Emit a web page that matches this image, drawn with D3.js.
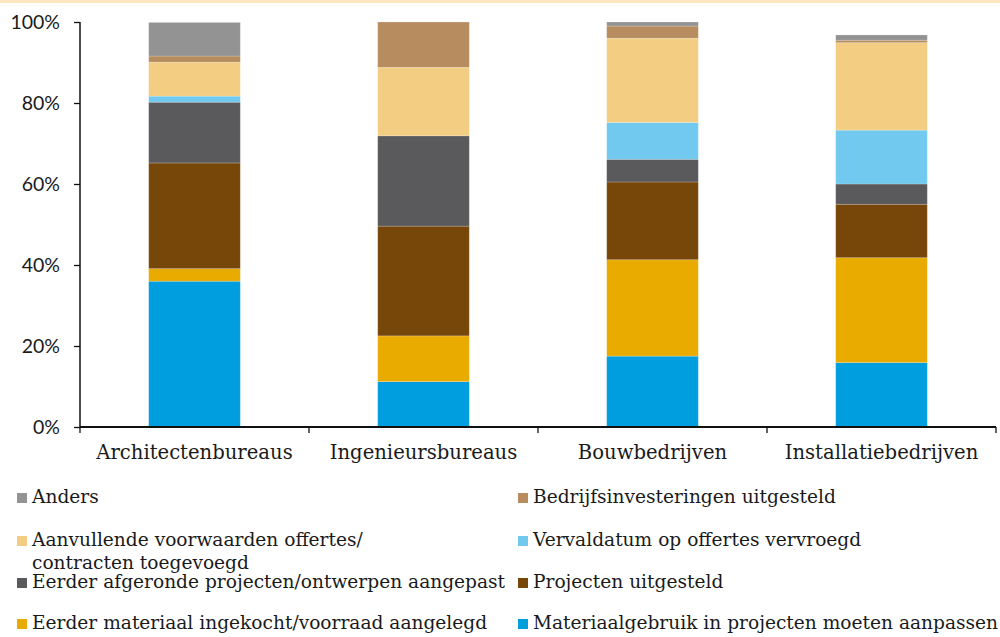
<!DOCTYPE html>
<html>
<head>
<meta charset="utf-8">
<script src="https://cdn.jsdelivr.net/npm/d3@7"></script>
<style>
  body { margin: 0; background: #fff; }
  svg { display: block; }
  .tick-label { font-family: Lato, "Open Sans", sans-serif; font-size: 19.5px; fill: #1a1a1a; }
  .cat-label { font-family: "DejaVu Serif", serif; font-size: 19.6px; fill: #1a1a1a; }
  .leg { font-family: "DejaVu Serif", serif; font-size: 18.6px; fill: #1a1a1a; }
</style>
</head>
<body>
<svg id="chart"></svg>
<script>
var width = 1000, height = 637;
var svg = d3.select("#chart").attr("width", width).attr("height", height);

// categories and series (bottom to top of the stack), values in %
var categories = ["Architectenbureaus", "Ingenieursbureaus", "Bouwbedrijven", "Installatiebedrijven"];
var seriesNames = [
  "Materiaalgebruik in projecten moeten aanpassen",
  "Eerder materiaal ingekocht/voorraad aangelegd",
  "Projecten uitgesteld",
  "Eerder afgeronde projecten/ontwerpen aangepast",
  "Vervaldatum op offertes vervroegd",
  "Aanvullende voorwaarden offertes/contracten toegevoegd",
  "Bedrijfsinvesteringen uitgesteld",
  "Anders"
];
var seriesColors = ["#009ddf", "#e9ab00", "#77470a", "#5a5a5c", "#72c9ef", "#f2cd82", "#b78d5f", "#939393"];

var materiaalgebruik = [36.0, 11.2, 17.5, 15.9];
var eerderMateriaal  = [3.1, 11.3, 23.8, 25.9];
var projectenUit     = [26.1, 27.1, 19.2, 13.2];
var eerderAfgerond   = [15.0, 22.3, 5.6, 5.0];
var vervaldatum      = [1.5, 0, 9.1, 13.3];
var aanvullende      = [8.4, 16.9, 20.8, 21.6];
var bedrijfsinv      = [1.5, 11.2, 3.0, 0.6];
var anders           = [8.3, 0, 1.0, 1.3];

var yTicks = [0, 20, 40, 60, 80, 100];

var seriesValues = [materiaalgebruik, eerderMateriaal, projectenUit, eerderAfgerond, vervaldatum, aanvullende, bedrijfsinv, anders];

// legend order, as laid out: [series index, column, row]
var legendLayout = [
  [7, 0, 0], [6, 1, 0],
  [5, 0, 1], [4, 1, 1],
  [3, 0, 2], [2, 1, 2],
  [1, 0, 3], [0, 1, 3]
];

// build table for d3.stack
var table = categories.map(function(c, i) {
  var row = { cat: c };
  seriesNames.forEach(function(s, j) { row[s] = seriesValues[j][i]; });
  return row;
});
var stacked = d3.stack().keys(seriesNames)(table);

// top strip
svg.append("rect").attr("x", 0).attr("y", 0).attr("width", width).attr("height", 3).attr("fill", "#fde7c1");

var x = d3.scaleBand().domain(categories).range([80, 996]).paddingInner(0.6).paddingOuter(0.3);
var y = d3.scaleLinear().domain([0, 100]).range([427, 22]);

// bars
var layers = svg.append("g").selectAll("g").data(stacked).enter().append("g")
  .attr("fill", function(d, i) { return seriesColors[i]; });
layers.selectAll("rect").data(function(d) { return d; }).enter().append("rect")
  .attr("x", function(d) { return x(d.data.cat); })
  .attr("width", x.bandwidth())
  .attr("y", function(d) { return y(d[1]); })
  .attr("height", function(d) { return Math.max(0, y(d[0]) - y(d[1])); })
  .attr("stroke", "rgba(255,255,255,0.25)")
  .attr("stroke-width", 0.8);

// y axis
var yAxis = svg.append("g").attr("transform", "translate(80,0)")
  .call(d3.axisLeft(y).tickValues(yTicks).tickSize(6).tickFormat(function(d) { return d + "%"; }));
yAxis.select(".domain").attr("stroke", "#111").attr("stroke-width", 1.5).attr("d", "M0," + y(100) + "V" + y(0));
yAxis.selectAll(".tick line").attr("stroke", "#111").attr("stroke-width", 1.3);
yAxis.selectAll(".tick text").attr("class", "tick-label").attr("x", -20).attr("dy", "0.35em")
  .attr("font-family", null).attr("font-size", null);

// x axis with ticks at category boundaries
var xAxisG = svg.append("g");
xAxisG.append("line").attr("x1", 80).attr("x2", 996).attr("y1", y(0)).attr("y2", y(0))
  .attr("stroke", "#111").attr("stroke-width", 1.8);
var bounds = [80].concat(categories.map(function(c) { return x(c) + x.bandwidth() + x.step() * 0.3; }));
xAxisG.selectAll("line.tk").data(bounds).enter().append("line").attr("class", "tk")
  .attr("x1", function(d) { return d; }).attr("x2", function(d) { return d; })
  .attr("y1", y(0)).attr("y2", y(0) + 6)
  .attr("stroke", "#111").attr("stroke-width", 1.3);
xAxisG.selectAll("text").data(categories).enter().append("text").attr("class", "cat-label")
  .attr("x", function(d) { return x(d) + x.bandwidth() / 2; })
  .attr("y", 459)
  .attr("text-anchor", "middle")
  .text(function(d) { return d; });

// legend
var colX = [17, 518];
var rowY = [503, 546, 588, 629];
var leg = svg.append("g").selectAll("g").data(legendLayout).enter().append("g");
leg.append("rect")
  .attr("x", function(d) { return colX[d[1]]; })
  .attr("y", function(d) { return rowY[d[2]] - 10; })
  .attr("width", 10).attr("height", 10)
  .attr("fill", function(d) { return seriesColors[d[0]]; });
leg.append("text").attr("class", "leg")
  .attr("x", function(d) { return colX[d[1]] + 15; })
  .attr("y", function(d) { return rowY[d[2]]; })
  .each(function(d) {
    var name = seriesNames[d[0]];
    var t = d3.select(this);
    if (name.indexOf("offertes/contracten") >= 0) {
      t.append("tspan").text("Aanvullende voorwaarden offertes/");
      t.append("tspan").attr("x", colX[d[1]] + 15).attr("dy", 23).text("contracten toegevoegd");
    } else {
      t.text(name);
    }
  });
</script>
</body>
</html>
